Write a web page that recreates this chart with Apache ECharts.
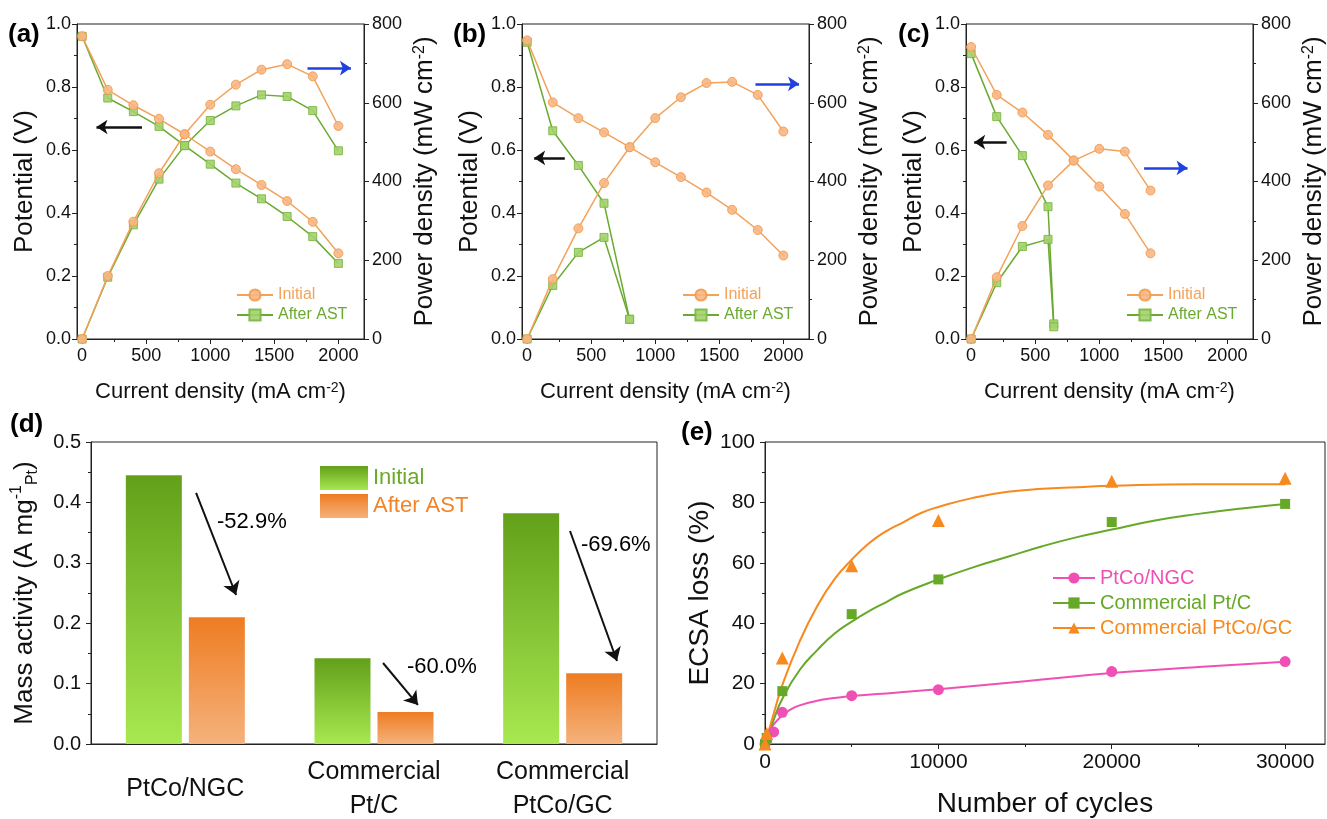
<!DOCTYPE html>
<html><head><meta charset="utf-8">
<script src="https://cdn.jsdelivr.net/npm/echarts@6/dist/echarts.min.js"></script>
<style>html,body{margin:0;padding:0;background:#fff}#c{width:1327px;height:819px}</style>
</head><body><div id="c"></div>
<script>
// ---------- data: panel (a) ----------
const currentA   = [0,200,400,600,800,1000,1200,1400,1600,1800,2000];
const potInitA   = [0.961,0.791,0.742,0.699,0.650,0.595,0.539,0.489,0.438,0.372,0.272];
const potAfterA  = [0.961,0.765,0.722,0.675,0.614,0.555,0.495,0.445,0.389,0.325,0.240];
const powInitA   = [0,160,298,421,520,595,646,684,698,667,541];
const powAfterA  = [0,157,290,406,491,555,592,620,616,580,478];
// ---------- data: panel (b) ----------
const currentB      = [0,200,400,600,800,1000,1200,1400,1600,1800,2000];
const potInitB      = [0.948,0.751,0.701,0.656,0.609,0.561,0.514,0.465,0.410,0.346,0.265];
const powInitB      = [0,152,281,396,487,561,614,650,653,620,527];
const currentBAfter = [0,200,400,600,800];
const potAfterB     = [0.942,0.661,0.551,0.431,0.0625];
const powAfterB     = [0,136,220,258,50];
// ---------- data: panel (c) ----------
const currentC      = [0,200,400,600,800,1000,1200,1400];
const potInitC      = [0.927,0.775,0.719,0.648,0.567,0.484,0.397,0.272];
const powInitC      = [0,157,287,390,453,483,476,377];
const currentCAfter = [0,200,400,600,645];
const potAfterC     = [0.906,0.706,0.582,0.420,0.048];
const powAfterC     = [0,143,235,253,31];
// ---------- data: panel (d) ----------
const catalysts = ['PtCo/NGC','Commercial\nPt/C','Commercial\nPtCo/GC'];
const maInitial = [0.445,0.142,0.382];
const maAfter   = [0.210,0.053,0.117];
const maDropLabels = ['-52.9%','-60.0%','-69.6%'];
// ---------- data: panel (e) ----------
const cyclesNGC = [0,100,500,1000,5000,10000,20000,30000];
const lossNGC   = [0,1.5,4,10.5,16,18,24,27.3];
const cyclesPtC = [0,100,1000,5000,10000,20000,30000];
const lossPtC   = [0,2,17.5,43,54.5,73.5,79.5];
const cyclesGC  = [0,100,1000,5000,10000,20000,30000];
const lossGC    = [0,3.5,28.5,59,74,87,88];
// fitted curves
const fitCyclesNGC = [0,250,500,1000,1500,2000,3000,4000,5000,7500,10000,15000,20000,25000,30000];
const fitLossNGC   = [0,4,6.5,9.5,11.5,12.8,14.3,15.2,15.9,17,18.1,20.8,23.5,25.5,27.2];
const fitCyclesPtC = [0,500,1000,2000,3000,4000,5000,6000,7000,8000,10000,12000,14000,16000,18000,20000,22500,25000,27500,30000];
const fitLossPtC   = [0,8,15,24.5,31,36.5,40.5,44,47,50,54.5,58.5,62,65.5,68.5,71,74,76.2,78,79.5];
const fitCyclesGC  = [0,500,1000,2000,3000,4000,5000,6000,7000,8000,9000,10000,12000,14000,16000,18000,20000,25000,30000];
const fitLossGC    = [0,10,19.5,34,45.5,54.5,61,66.5,70.5,73.5,76.5,78.5,81.5,83.5,84.5,85,85.5,86,86];
// tick labels
const ivTicks = [0,500,1000,1500,2000];
const ivMinor = [250,750,1250,1750];
const cycTicks = [0,10000,20000,30000];
const cycMinor = [5000,15000,25000];

// ---------- annotation arrows (data coordinates) ----------
const arrowsA = [[[467,0.673],[112,0.673],'#111'],[[1759,0.860],[2098,0.860],'#2040e0']];
const arrowsB = [[[294,0.575],[55,0.575],'#111'],[[1782,0.810],[2122,0.810],'#2040e0']];
const arrowsC = [[[277,0.625],[24,0.625],'#111'],[[1350,0.543],[1689,0.543],'#2040e0']];
const arrowsD = [[[0.057,0.4156],[0.269,0.2467]],[[1.048,0.1341],[1.233,0.0646]],[[2.039,0.3526],[2.288,0.1374]]];
const dropLabelPos = [[0.168,0.3675],[1.175,0.1275],[2.097,0.3295]];

const FONT = 'Liberation Sans, Arial, Helvetica, sans-serif';
const AX = '#222';
const OR_LINE = '#F3A25A', OR_FILL = '#F7B684', OR_EDGE = '#F29C4E';
const GR_LINE = '#6AAA30', GR_FILL = '#A3D16C', GR_EDGE = '#7BB744';

const zip = (xs, ys) => xs.map((x, i) => [x, ys[i]]);

const option = {
  animation: false,
  backgroundColor: '#fff',
  textStyle: {fontFamily: FONT},
  grid: [], xAxis: [], yAxis: [], series: [], legend: [], graphic: []
};
const mkGrid = (l, t, w, h) => ({left: l, top: t, width: w, height: h, show: true, borderColor: AX, borderWidth: 1,
  containLabel: false, outerBoundsMode: 'none'});

function ivPanel(gi, left, cur, pI, wI, curAf, pA, wA, arrows, legLeft) {
  option.grid.push(mkGrid(left, 24, 287, 315));
  const xi = option.xAxis.length, yi = option.yAxis.length;
  option.xAxis.push({
    type: 'value', gridIndex: gi, min: -40, max: 2200, position: 'bottom',
    axisLine: {onZero: false, lineStyle: {color: AX}},
    axisTick: {customValues: ivTicks, length: 5, lineStyle: {color: AX}},
    axisLabel: {customValues: ivTicks, fontSize: 18, color: '#111', margin: 8, formatter: v => String(v)},
    splitLine: {show: false},
    name: 'Current density (mA cm{sup|-2})', nameLocation: 'middle', nameGap: 42,
    nameTextStyle: {fontSize: 22, color: '#111', rich: {sup: {fontSize: 14, verticalAlign: 'top', color: '#111'}}}
  });
  option.xAxis.push({
    type: 'value', gridIndex: gi, min: -40, max: 2200, position: 'bottom',
    axisLine: {show: false, onZero: false},
    axisTick: {customValues: ivMinor, length: 3, lineStyle: {color: AX}},
    axisLabel: {show: false}, splitLine: {show: false}
  });
  option.yAxis.push({
    type: 'value', gridIndex: gi, min: 0, max: 1, interval: 0.2, position: 'left',
    axisLine: {show: true, onZero: false, lineStyle: {color: AX}},
    axisTick: {show: true, length: 5, lineStyle: {color: AX}},
    minorTick: {show: true, splitNumber: 2, length: 3, lineStyle: {color: AX}},
    axisLabel: {fontSize: 18, color: '#111', margin: 6, formatter: v => v.toFixed(1)},
    splitLine: {show: false},
    name: 'Potential (V)', nameLocation: 'middle', nameGap: 39, nameRotate: 90,
    nameTextStyle: {fontSize: 26, color: '#111'}
  });
  option.yAxis.push({
    type: 'value', gridIndex: gi, min: 0, max: 800, interval: 200, position: 'right',
    axisLine: {show: true, onZero: false, lineStyle: {color: AX}},
    axisTick: {show: true, length: 5, lineStyle: {color: AX}},
    minorTick: {show: true, splitNumber: 2, length: 3, lineStyle: {color: AX}},
    axisLabel: {fontSize: 18, color: '#111', margin: 8},
    splitLine: {show: false},
    name: 'Power density (mW cm{sup|-2})', nameLocation: 'middle', nameGap: 48, nameRotate: 90,
    nameTextStyle: {fontSize: 26, color: '#111', rich: {sup: {fontSize: 16, verticalAlign: 'top', color: '#111'}}}
  });
  const mk = (name, xs, ys, yAx, isInit, extra) => Object.assign({
    type: 'line', name: name, xAxisIndex: xi, yAxisIndex: yi + yAx,
    data: zip(xs, ys),
    symbol: isInit ? 'circle' : 'rect', symbolSize: isInit ? 9 : 8,
    lineStyle: {color: isInit ? OR_LINE : GR_LINE, width: 1.5},
    itemStyle: {color: isInit ? OR_FILL : GR_FILL, borderColor: isInit ? OR_EDGE : GR_EDGE, borderWidth: 1, opacity: 0.9},
    z: isInit ? 3 : 2
  }, extra || {});
  option.series.push(mk('Initial', cur, pI, 0, true, {
    markLine: {
      silent: true, animation: false, symbol: ['none', 'arrow'], symbolSize: 11,
      label: {show: false},
      data: arrows.map(a => [
        {coord: a[0], lineStyle: {color: a[2], width: 2.5, type: 'solid'}, itemStyle: {color: a[2]}},
        {coord: a[1], itemStyle: {color: a[2]}}
      ])
    }
  }));
  option.series.push(mk('After AST', curAf, pA, 0, false));
  option.series.push(mk('Initial', cur, wI, 1, true));
  option.series.push(mk('After AST', curAf, wA, 1, false));
  option.legend.push({
    left: legLeft, top: 282, orient: 'vertical', itemWidth: 36, itemHeight: 14, itemGap: 4,
    selectedMode: false, textStyle: {fontSize: 16, fontFamily: FONT},
    data: [{name: 'Initial', textStyle: {color: OR_LINE}}, {name: 'After AST', textStyle: {color: GR_LINE}}]
  });
}

ivPanel(0, 77, currentA, potInitA, powInitA, currentA, potAfterA, powAfterA, arrowsA, 231);
ivPanel(1, 522, currentB, potInitB, powInitB, currentBAfter, potAfterB, powAfterB, arrowsB, 677);
ivPanel(2, 966, currentC, potInitC, powInitC, currentCAfter, potAfterC, powAfterC, arrowsC, 1121);

// ---------- panel (d) ----------
option.grid.push(mkGrid(91, 442, 566, 302));
const dX = option.xAxis.length, dY = option.yAxis.length;
option.xAxis.push({
  type: 'category', gridIndex: 3, data: catalysts, position: 'bottom',
  axisLine: {onZero: false, lineStyle: {color: AX}}, axisTick: {show: false},
  axisLabel: {fontSize: 25, color: '#111', lineHeight: 34, verticalAlign: 'middle', margin: 45, interval: 0}
});
option.xAxis.push({type: 'value', gridIndex: 3, min: -0.5, max: 2.5, show: false, position: 'bottom'});
option.yAxis.push({
  type: 'value', gridIndex: 3, min: 0, max: 0.5, interval: 0.1, position: 'left',
  axisLine: {show: true, onZero: false, lineStyle: {color: AX}},
  axisTick: {show: true, length: 5, lineStyle: {color: AX}},
  minorTick: {show: true, splitNumber: 2, length: 3, lineStyle: {color: AX}},
  axisLabel: {fontSize: 20, color: '#111', margin: 10, formatter: v => v.toFixed(1)},
  splitLine: {show: false},
  name: 'Mass activity (A mg{sup|-1}{sub|Pt})', nameLocation: 'middle', nameGap: 50, nameRotate: 90,
  nameTextStyle: {fontSize: 26, color: '#111', lineHeight: 32,
    rich: {sup: {fontSize: 16, verticalAlign: 'top', color: '#111'}, sub: {fontSize: 16, verticalAlign: 'bottom', color: '#111', padding: [10, 0, 0, 0]}}}
});
const gGreen = new echarts.graphic.LinearGradient(0, 0, 0, 1, [{offset: 0, color: '#62A01A'}, {offset: 1, color: '#A8E850'}]);
const gOrange = new echarts.graphic.LinearGradient(0, 0, 0, 1, [{offset: 0, color: '#EE7C22'}, {offset: 1, color: '#F5B27C'}]);
option.series.push({type: 'bar', name: 'Initial (d)', xAxisIndex: dX, yAxisIndex: dY, data: maInitial,
  barWidth: 56, barGap: '12.5%', itemStyle: {color: gGreen}});
option.series.push({type: 'bar', name: 'After AST (d)', xAxisIndex: dX, yAxisIndex: dY, data: maAfter,
  barWidth: 56, barGap: '12.5%', itemStyle: {color: gOrange}});
option.series.push({
  type: 'scatter', name: 'drop', xAxisIndex: dX + 1, yAxisIndex: dY,
  data: dropLabelPos.map((p, i) => [p[0], p[1], maDropLabels[i]]),
  symbolSize: 0, itemStyle: {color: '#fff', opacity: 1}, silent: true, z: 5,
  label: {show: true, position: 'right', distance: 0, formatter: p => p.value[2], fontSize: 22, color: '#000', opacity: 1, fontFamily: FONT},
  markLine: {
    silent: true, animation: false, symbol: ['none', 'arrow'], symbolSize: 13,
    label: {show: false}, lineStyle: {color: '#111', width: 2, type: 'solid'}, itemStyle: {color: '#111'},
    data: arrowsD.map(a => [{coord: a[0]}, {coord: a[1]}])
  }
});
option.legend.push({
  left: 315, top: 461, orient: 'vertical', itemWidth: 48, itemHeight: 24, itemGap: 4,
  selectedMode: false, textStyle: {fontSize: 22, fontFamily: FONT},
  formatter: n => n.replace(' (d)', ''),
  data: [{name: 'Initial (d)', icon: 'rect', textStyle: {color: '#6AAA28'}}, {name: 'After AST (d)', icon: 'rect', textStyle: {color: '#F0852A'}}]
});

// ---------- panel (e) ----------
option.grid.push(mkGrid(765, 442, 560, 302));
const eX = option.xAxis.length, eY = option.yAxis.length;
option.xAxis.push({
  type: 'value', gridIndex: 4, min: 0, max: 32300, position: 'bottom',
  axisLine: {onZero: false, lineStyle: {color: AX}},
  axisTick: {customValues: cycTicks, length: 5, lineStyle: {color: AX}},
  axisLabel: {customValues: cycTicks, fontSize: 21, color: '#111', margin: 8, formatter: v => String(v)},
  splitLine: {show: false},
  name: 'Number of cycles', nameLocation: 'middle', nameGap: 46, nameTextStyle: {fontSize: 28, color: '#111'}
});
option.xAxis.push({
  type: 'value', gridIndex: 4, min: 0, max: 32300, position: 'bottom', axisLine: {show: false, onZero: false},
  axisTick: {customValues: cycMinor, length: 3, lineStyle: {color: AX}},
  axisLabel: {show: false}, splitLine: {show: false}
});
option.yAxis.push({
  type: 'value', gridIndex: 4, min: 0, max: 100, interval: 20, position: 'left',
  axisLine: {show: true, onZero: false, lineStyle: {color: AX}},
  axisTick: {show: true, length: 5, lineStyle: {color: AX}},
  minorTick: {show: true, splitNumber: 2, length: 3, lineStyle: {color: AX}},
  axisLabel: {fontSize: 21, color: '#111', margin: 10},
  splitLine: {show: false},
  name: 'ECSA loss (%)', nameLocation: 'middle', nameGap: 51, nameRotate: 90,
  nameTextStyle: {fontSize: 28, color: '#111'}
});
const eSeries = [
  ['PtCo/NGC', '#F050B4', 'circle', 11, fitCyclesNGC, fitLossNGC, cyclesNGC, lossNGC],
  ['Commercial Pt/C', '#66A828', 'rect', 10, fitCyclesPtC, fitLossPtC, cyclesPtC, lossPtC],
  ['Commercial PtCo/GC', '#F7891E', 'triangle', 13, fitCyclesGC, fitLossGC, cyclesGC, lossGC]
];
eSeries.forEach(s => {
  option.series.push({type: 'line', name: s[0], xAxisIndex: eX, yAxisIndex: eY, data: zip(s[4], s[5]),
    smooth: true, showSymbol: false, symbol: s[2], symbolSize: s[3],
    lineStyle: {color: s[1], width: 2}, itemStyle: {color: s[1]}});
  option.series.push({type: 'scatter', name: s[0], xAxisIndex: eX, yAxisIndex: eY, data: zip(s[6], s[7]),
    symbol: s[2], symbolSize: s[3], itemStyle: {color: s[1], opacity: 1}, z: 4});
});
option.legend.push({
  left: 1047, top: 563, orient: 'vertical', itemWidth: 42, itemHeight: 14, itemGap: 5,
  selectedMode: false, textStyle: {fontSize: 20, fontFamily: FONT},
  data: eSeries.map(s => ({name: s[0], textStyle: {color: s[1]}}))
});

// ---------- panel letters ----------
[['(a)', 8, 22], ['(b)', 453, 22], ['(c)', 898, 22], ['(d)', 10, 412], ['(e)', 681, 420]].forEach(t => {
  option.graphic.push({type: 'text', left: t[1], top: t[2], style: {text: t[0], font: 'bold 26px ' + FONT, fill: '#000'}});
});

const chart = echarts.init(document.getElementById('c'), null, {renderer: 'canvas'});
chart.setOption(option);
</script></body></html>
